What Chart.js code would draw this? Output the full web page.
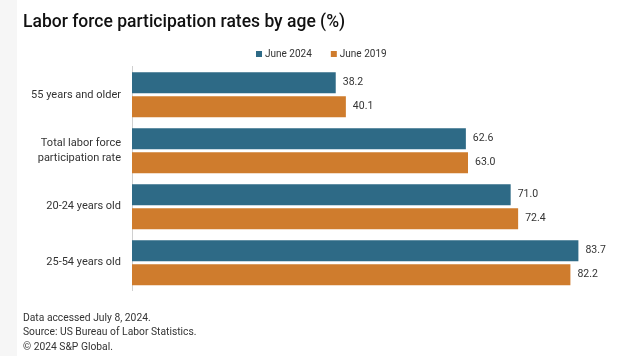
<!DOCTYPE html>
<html>
<head>
<meta charset="utf-8">
<script src="https://cdn.jsdelivr.net/npm/chart.js@4/dist/chart.umd.min.js"></script>
<style>
  html, body { margin: 0; padding: 0; background: #ffffff; }
  canvas { display: block; }
</style>
</head>
<body>
<canvas id="c" width="624" height="356"></canvas>
<script>
// ---- data ----
const categories = ['55 years and older', ['Total labor force', 'participation rate'], '20-24 years old', '25-54 years old'];
const seriesNames = ['June 2024', 'June 2019'];
const june2024 = [38.2, 62.6, 71.0, 83.7];
const june2019 = [40.1, 63.0, 72.4, 82.2];
const titleText = 'Labor force participation rates by age (%)';
const footnoteLines = ['Data accessed July 8, 2024.', 'Source: US Bureau of Labor Statistics.', '\u00A9 2024 S&P Global.'];

// ---- styles ----
const BLUE = '#2e6a86';
const ORANGE = '#cf7c2d';
const TEXT = '#333333';
const FONT = 'Roboto, "Liberation Sans", Arial, sans-serif';

const backgroundPlugin = {
  id: 'bg',
  beforeDraw(chart) {
    const ctx = chart.ctx;
    ctx.save();
    ctx.fillStyle = '#ffffff';
    ctx.fillRect(0, 0, chart.width, chart.height);
    ctx.fillStyle = '#f6f6f6';
    ctx.fillRect(0, 0, 17, chart.height);
    ctx.restore();
  }
};

const valueLabelPlugin = {
  id: 'valueLabels',
  afterDatasetsDraw(chart) {
    const ctx = chart.ctx;
    ctx.save();
    ctx.font = '10.5px ' + FONT;
    ctx.fillStyle = TEXT;
    ctx.textAlign = 'left';
    ctx.textBaseline = 'middle';
    chart.data.datasets.forEach((ds, i) => {
      const meta = chart.getDatasetMeta(i);
      meta.data.forEach((bar, j) => {
        ctx.fillText(Number(ds.data[j]).toFixed(1), bar.x + 7, bar.y);
      });
    });
    ctx.restore();
  }
};

const customLegendPlugin = {
  id: 'customLegend',
  afterDraw(chart, args, opts) {
    const ctx = chart.ctx;
    ctx.save();
    ctx.font = '10px ' + FONT;
    ctx.textBaseline = 'middle';
    ctx.textAlign = 'left';
    let x = opts.x;
    const y = opts.y;
    chart.data.datasets.forEach((ds) => {
      ctx.fillStyle = ds.backgroundColor;
      ctx.fillRect(x, y - 3, 6, 6);
      ctx.fillStyle = TEXT;
      ctx.fillText(ds.label, x + 9, y);
      x += 9 + ctx.measureText(ds.label).width + 19;
    });
    ctx.restore();
  }
};

new Chart(document.getElementById('c'), {
  type: 'bar',
  data: {
    labels: categories,
    datasets: [
      { label: seriesNames[0], data: june2024, backgroundColor: BLUE, borderWidth: 0,
        categoryPercentage: 0.857, barPercentage: 0.875 },
      { label: seriesNames[1], data: june2019, backgroundColor: ORANGE, borderWidth: 0,
        categoryPercentage: 0.857, barPercentage: 0.875 }
    ]
  },
  options: {
    indexAxis: 'y',
    responsive: false,
    animation: false,
    devicePixelRatio: 1,
    layout: { padding: { left: 23, right: 12, top: 0, bottom: 0 } },
    scales: {
      x: { display: false, min: 0, max: 90 },
      y: {
        grid: { display: false, drawTicks: false },
        border: { display: true, color: '#d0d0d0', width: 1 },
        ticks: { color: TEXT, padding: 11, font: { family: FONT, size: 11, lineHeight: 1.3 } },
        afterFit(scale) { scale.width = 109; }
      }
    },
    plugins: {
      legend: { display: false },
      tooltip: { enabled: false },
      title: {
        display: true, text: titleText, align: 'start', color: '#111111',
        font: { family: FONT, size: 17.5, weight: '500', lineHeight: 1.2 },
        padding: { top: 12, bottom: 33.8 }
      },
      subtitle: {
        display: true, text: footnoteLines, position: 'bottom', align: 'start', color: TEXT,
        font: { family: FONT, size: 10.3, lineHeight: 1.4 },
        padding: { top: 20.3, bottom: 1.8 }
      },
      customLegend: { x: 256, y: 54 }
    }
  },
  plugins: [backgroundPlugin, valueLabelPlugin, customLegendPlugin]
});
</script>
</body>
</html>
